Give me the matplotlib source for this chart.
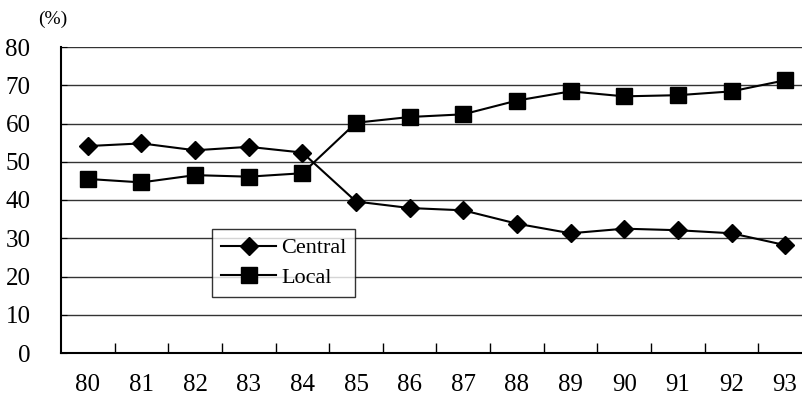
import matplotlib.pyplot as plt
import numpy as np

years = ["80", "81", "82", "83", "84", "85", "86", "87", "88", "89", "90", "91", "92", "93"]
central = [54.1, 54.8, 53.0, 53.9, 52.4, 39.6, 37.9, 37.3, 33.8, 31.3, 32.5, 32.1, 31.3, 28.2]
local = [45.5, 44.6, 46.5, 46.1, 47.0, 60.2, 61.7, 62.4, 66.0, 68.4, 67.1, 67.4, 68.4, 71.3]
y_ticks = [0, 10, 20, 30, 40, 50, 60, 70, 80]

plt.rcParams["font.family"] = ["Liberation Serif", "DejaVu Serif"]

fig = plt.figure(figsize=(8.03, 4.0), dpi=100)
ax = fig.add_axes([61 / 803, 47 / 400, 751 / 803, 306 / 400])

x = np.arange(len(years))
ax.plot(x, central, color="black", lw=1.5, marker="D", ms=9, label="Central")
ax.plot(x, local, color="black", lw=1.5, marker="s", ms=11, label="Local")

ax.set_xlim(-0.5, len(years) - 0.5)
ax.set_ylim(0, 80)
ax.set_yticks(y_ticks)
ax.yaxis.grid(True, color="#333333", lw=1)
ax.set_axisbelow(True)

# category axis: ticks between categories, labels centred
ax.set_xticks(x[:-1] + 0.5)
ax.set_xticklabels([])
ax.set_xticks(x, minor=True)
ax.set_xticklabels(years, minor=True, fontsize=18)
ax.tick_params(axis="x", which="major", direction="in", length=7, width=1)
ax.tick_params(axis="x", which="minor", length=0, pad=15)
ax.tick_params(axis="y", direction="in", length=4, labelsize=18, pad=22)

for s in ["top", "right"]:
    ax.spines[s].set_visible(False)
ax.spines["left"].set_linewidth(1.5)
ax.spines["bottom"].set_linewidth(1.5)

ax.text(-0.03, 1.09, "(%)", transform=ax.transAxes, fontsize=14, ha="left", va="center")

leg = ax.legend(loc="upper left", bbox_to_anchor=(151 / 751, 1 - (229 - 47) / 306),
                borderaxespad=0, fontsize=16, frameon=True, fancybox=False,
                edgecolor="black", handlelength=2.5, handletextpad=0.2,
                borderpad=0.4, labelspacing=0.4)
leg.get_frame().set_linewidth(1)

plt.savefig("out.png", dpi=100)
